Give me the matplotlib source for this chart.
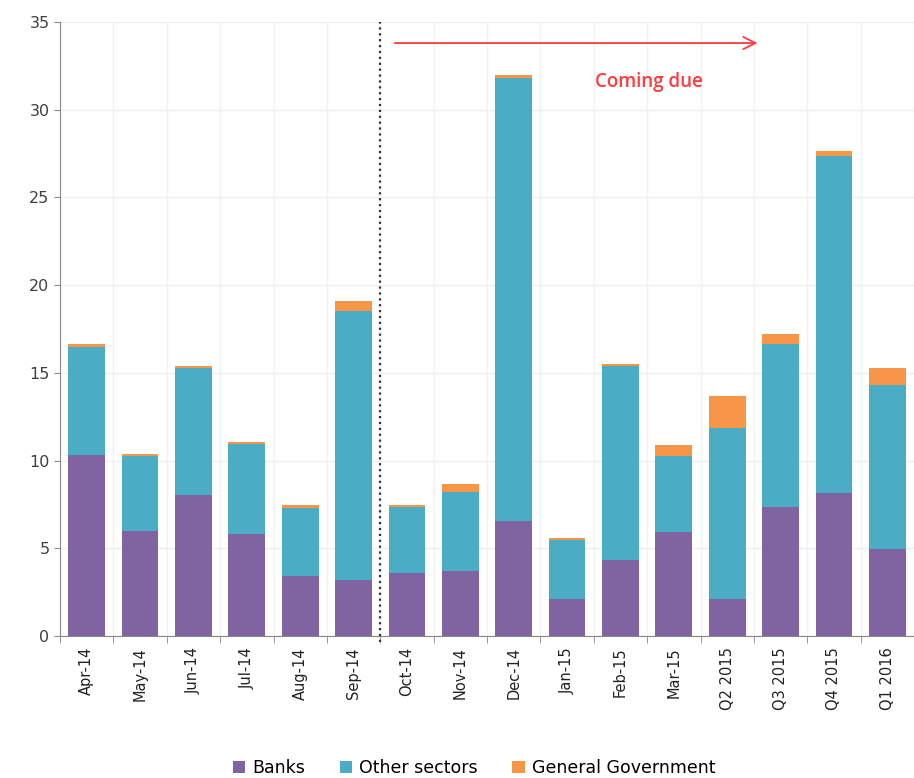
import matplotlib
matplotlib.use('Agg')
import matplotlib.pyplot as plt
import numpy as np

# categories and stacked values (EUR bn)
categories = ['Apr-14', 'May-14', 'Jun-14', 'Jul-14', 'Aug-14', 'Sep-14',
              'Oct-14', 'Nov-14', 'Dec-14', 'Jan-15', 'Feb-15', 'Mar-15',
              'Q2 2015', 'Q3 2015', 'Q4 2015', 'Q1 2016']
banks = [10.33, 6.0, 8.05, 5.81, 3.41, 3.22, 3.6, 3.7, 6.53, 2.11, 4.32, 5.93,
         2.11, 7.33, 8.17, 4.95]
other_sectors = [6.12, 4.26, 7.2, 5.14, 3.89, 15.28, 3.73, 4.52, 25.27, 3.34,
                 11.05, 4.33, 9.76, 9.29, 19.21, 9.34]
general_gov = [0.17, 0.12, 0.12, 0.12, 0.15, 0.62, 0.12, 0.43, 0.17, 0.12,
               0.12, 0.64, 1.82, 0.58, 0.29, 0.96]

c_banks = '#8064A2'
c_other = '#4BACC6'
c_gov = '#F79646'

fig = plt.figure(figsize=(9.14, 7.78), dpi=100)
ax = fig.add_axes([60 / 914, 1 - 636 / 778, 1 - 60 / 914, (636 - 22) / 778])

x = np.arange(len(categories))
b1 = np.array(banks)
b2 = b1 + np.array(other_sectors)
ax.bar(x, banks, width=0.69, color=c_banks, label='Banks', zorder=3)
ax.bar(x, other_sectors, width=0.69, bottom=b1, color=c_other, label='Other sectors', zorder=3)
ax.bar(x, general_gov, width=0.69, bottom=b2, color=c_gov, label='General Government', zorder=3)

ax.set_xlim(-0.47, 15.42)
ax.set_ylim(0, 35)
ax.set_yticks(range(0, 36, 5))
ax.tick_params(axis='y', labelsize=11.5, colors='#404040', length=4, color='#888888')

ax.set_xticks(x)
ax.set_xticklabels(categories, rotation=90, fontsize=10.5, color='#222222')
ax.tick_params(axis='x', which='major', length=0, pad=8)
ax.set_xticks(np.arange(-0.5, 15.6, 1), minor=True)
ax.tick_params(axis='x', which='minor', length=5, color='#888888')

# light grid: horizontal at majors, vertical at category boundaries
ax.grid(axis='y', color='#eeeeee', linewidth=1, zorder=0)
ax.grid(axis='x', which='minor', color='#f2f2f2', linewidth=1, zorder=0)

for side in ['top', 'right']:
    ax.spines[side].set_visible(False)
ax.spines['left'].set_color('#888888')
ax.spines['bottom'].set_color('#888888')

# dotted separator between history and coming due
ax.axvline(5.5, ymin=-0.01, ymax=1.0, color='#333333', linestyle=':', linewidth=1.6,
           zorder=4, clip_on=False)

# arrow and label
ax.annotate('', xy=(12.62, 33.8), xytext=(5.72, 33.8),
            arrowprops=dict(arrowstyle='->', color='#FF3B3B', lw=1.3,
                            mutation_scale=22))
ax.text(10.54, 31.6, 'Coming due', color='#FF3B3B', fontsize=13.5,
        ha='center', va='center', fontfamily='Open Sans', fontweight='semibold')

ax.legend(loc='lower center', bbox_to_anchor=(0.485, -0.255), ncol=3, frameon=False,
          fontsize=12.5, handlelength=0.7, handleheight=0.7, handletextpad=0.4,
          columnspacing=2.0)

fig.savefig('out.png', dpi=100)
